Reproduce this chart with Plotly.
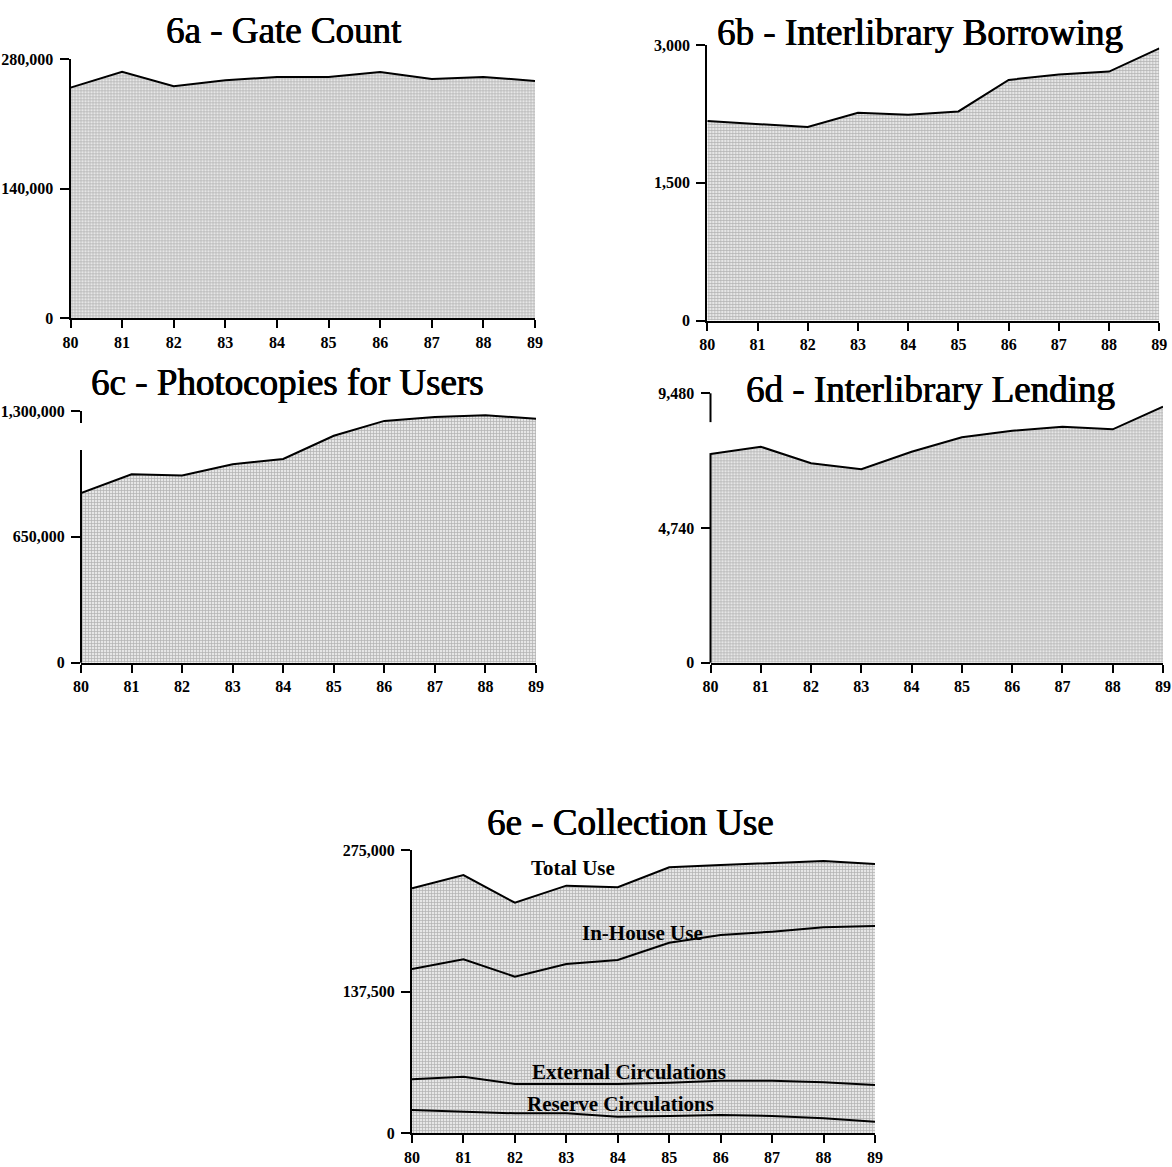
import plotly.graph_objects as go

# ---- data (fiscal years 1980-1989) ----
years = [80, 81, 82, 83, 84, 85, 86, 87, 88, 89]
year_labels = ["80", "81", "82", "83", "84", "85", "86", "87", "88", "89"]

gate_count = [249400, 266600, 250900, 257400, 260900, 260900, 266300, 258800, 260900, 256600]
ill_borrowing = [2172, 2143, 2107, 2263, 2241, 2277, 2620, 2678, 2711, 2963]
photocopies = [876200, 973600, 966900, 1024800, 1052500, 1171900, 1248800, 1269300, 1278000, 1260600]
ill_lending = [7344, 7601, 7017, 6806, 7425, 7932, 8164, 8305, 8213, 9008]

total_use = [237800, 250700, 223800, 240400, 238800, 258200, 260400, 262700, 264300, 261400]
in_house_use = [159500, 168900, 152000, 164300, 168200, 185000, 192500, 195700, 200000, 201200]
external_circ = [52400, 55000, 47900, 47900, 47900, 49100, 51100, 51100, 49500, 46900]
reserve_circ = [22600, 21000, 19400, 19400, 16100, 16800, 17800, 16800, 14600, 11300]

titles = ["6a - Gate Count", "6b - Interlibrary Borrowing", "6c - Photocopies for Users",
          "6d - Interlibrary Lending", "6e - Collection Use"]
y_tops = [280000, 3000, 1300000, 9480, 275000]
y_ticks = [[0, 140000, 280000], [0, 1500, 3000], [0, 650000, 1300000],
           [0, 4740, 9480], [0, 137500, 275000]]

series_labels = ["Total Use", "In-House Use", "External Circulations", "Reserve Circulations"]

# ---- page geometry (pixels) ----
W, H = 1172, 1167
# (left, right, top, bottom) of each plotting area
boxes = [
    (70.5, 535, 59.3, 318.3),
    (707.3, 1159.3, 45, 320.5),
    (81, 536, 411, 662.7),
    (710.5, 1163, 393.3, 662.7),
    (412, 875, 850, 1133.3),
]
title_pos = [(284, 31), (920, 33), (287, 382), (930, 390), (630, 822)]

SERIF = "Liberation Serif, DejaVu Serif, serif"
TITLEFONT = dict(family=SERIF, size=37, color="black",
                 shadow="0.6px 0px 0px black, -0.3px 0px 0px black")
TICKFONT = dict(family=SERIF, size=16, color="black", weight="bold")

fill_style = dict(
    fillcolor="#dedede",
    fillpattern=dict(shape="+", fgcolor="#7a7a7a", bgcolor="#e6e6e6", size=3, solidity=0.4),
)

fig = go.Figure()

panel_series = [gate_count, ill_borrowing, photocopies, ill_lending, total_use]

for i, vals in enumerate(panel_series):
    n = "" if i == 0 else str(i + 1)
    fig.add_trace(go.Scatter(
        x=years, y=vals, mode="lines", xaxis="x" + n, yaxis="y" + n,
        line=dict(color="black", width=2), fill="tozeroy", showlegend=False,
        hoverinfo="x+y", **fill_style,
    ))

# component lines of collection use
for vals in (in_house_use, external_circ, reserve_circ):
    fig.add_trace(go.Scatter(
        x=years, y=vals, mode="lines", xaxis="x5", yaxis="y5",
        line=dict(color="black", width=2), showlegend=False,
    ))

layout = dict(
    width=W, height=H, autosize=False,
    margin=dict(l=0, r=0, t=0, b=0),
    paper_bgcolor="white", plot_bgcolor="rgba(0,0,0,0)",
    annotations=[], shapes=[],
)

for i, (l, r, t, b) in enumerate(boxes):
    n = "" if i == 0 else str(i + 1)
    broken = i in (2, 3)
    layout["xaxis" + n] = dict(
        domain=[l / W, r / W], range=[years[0], years[-1]], anchor="y" + n,
        tickvals=years, ticktext=year_labels, showgrid=False, zeroline=False,
        showline=True, linecolor="black", linewidth=2, automargin=False,
        ticks="outside", ticklen=8, tickwidth=2, tickcolor="black",
        tickfont=TICKFONT, ticklabelstandoff=0, ticklabeloverflow="allow",
    )
    layout["yaxis" + n] = dict(
        domain=[1 - b / H, 1 - t / H], range=[0, y_tops[i]], anchor="x" + n,
        tickvals=y_ticks[i], tickformat=",", showgrid=False, zeroline=False,
        showline=not broken, linecolor="black", linewidth=2, automargin=False,
        ticks="outside", ticklen=9, tickwidth=2, tickcolor="black",
        tickfont=TICKFONT, ticklabelstandoff=3, ticklabeloverflow="allow",
    )
    tx, ty = title_pos[i]
    layout["annotations"].append(dict(
        text=titles[i], x=tx / W, y=1 - ty / H, xref="paper", yref="paper",
        xanchor="center", yanchor="middle", showarrow=False, font=TITLEFONT,
    ))

# y-axis lines with a break below the top tick (panels 6c and 6d)
axis_breaks = {2: [(0.0, 0.845), (0.952, 1.0)], 3: [(0.0, 0.778), (0.893, 1.0)]}
for i, segs in axis_breaks.items():
    n = str(i + 1)
    for y0, y1 in segs:
        layout["shapes"].append(dict(
            type="line", xref="x" + n + " domain", yref="y" + n + " domain",
            x0=0, x1=0, y0=y0, y1=y1, line=dict(color="black", width=2),
        ))

# labels for the collection-use lines: (year position, value position)
label_pos = [(83.13, 257200), (84.49, 194700), (84.22, 59800), (84.05, 28400)]
for text, (lx, ly) in zip(series_labels, label_pos):
    layout["annotations"].append(dict(
        text="<b>" + text + "</b>", x=lx, y=ly, xref="x5", yref="y5",
        xanchor="center", yanchor="middle", showarrow=False,
        font=dict(family=SERIF, size=21, color="black"),
    ))

fig.update_layout(**layout)
fig.write_html("out.html")
